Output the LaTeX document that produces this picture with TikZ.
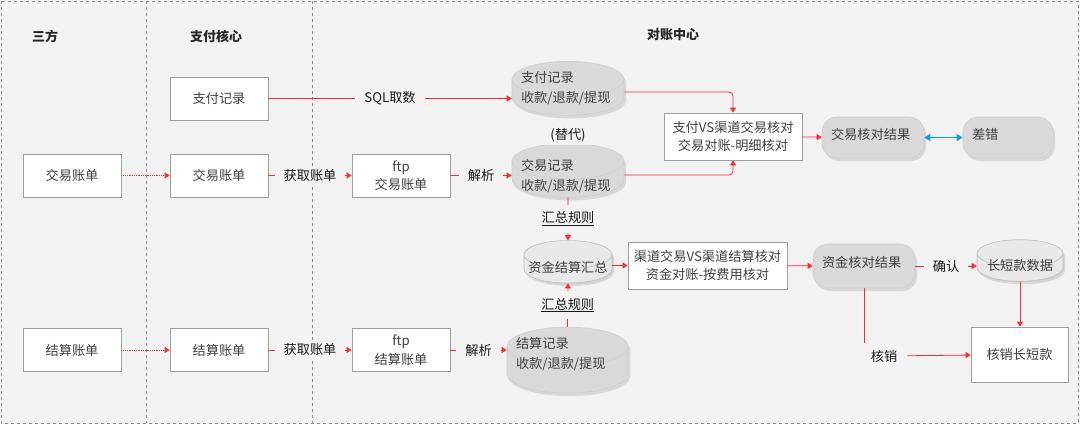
\documentclass[tikz,border=0pt]{standalone}
\usepackage{fontspec}
\setmainfont{Noto Sans CJK SC}
\usetikzlibrary{arrows.meta,shapes.geometric,shadows}
\definecolor{bg}{HTML}{F2F2F2}
\definecolor{laneline}{HTML}{8C8C8C}
\definecolor{boxline}{HTML}{9E9E9E}
\definecolor{cylfill}{HTML}{D9D9D9}
\definecolor{cylline}{HTML}{CDCDCD}
\definecolor{txtgray}{HTML}{404040}
\definecolor{linered}{HTML}{FF2A2A}
\definecolor{arrblue}{HTML}{1E9BD7}
\tikzset{
  lane/.style={draw=laneline, dashed, line width=0.8pt},
  head/.style={font=\fontsize{13}{16}\selectfont\bfseries, text=black!85},
  box/.style={draw=boxline, fill=white, line width=0.8pt, minimum width=98pt,
    minimum height=43pt, align=center, text=txtgray,
    font=\fontsize{13.2}{18.5}\selectfont},
  cyl/.style={cylinder, shape border rotate=90, aspect=0.32, draw=cylline,
    fill=cylfill, line width=0.6pt, inner sep=0pt, text height=0pt, text depth=0pt,
    drop shadow={shadow xshift=2pt, shadow yshift=-3pt, opacity=0.25, fill=black!45}},
  cylw/.style={text width=#1, minimum width=#1},
  cyllight/.style={cyl, fill=black!9, draw=black!25,
    drop shadow={shadow xshift=1pt, shadow yshift=-1pt, opacity=0.1, fill=black!45}},
  cyltext/.style={inner sep=0pt, align=left, text=txtgray,
    font=\fontsize{13.2}{19.5}\selectfont},
  pill/.style={rounded corners=15pt, fill=cylfill, draw=cylline, line width=0.6pt,
    text=txtgray, align=left, font=\fontsize{13.2}{16}\selectfont,
    text height=10pt, text depth=7pt,
    drop shadow={shadow xshift=2pt, shadow yshift=-3pt, opacity=0.25, fill=black!45}},
  lbl/.style={fill=bg, inner xsep=9pt, inner ysep=3pt, text=black!90,
    font=\fontsize{13.2}{16}\selectfont},
  arr/.style={draw=linered, line width=0.8pt, -{Triangle[width=6pt,length=5pt]}},
  dotarr/.style={arr, densely dotted},
  barr/.style={draw=arrblue, line width=1.4pt,
    {Triangle[width=7pt,length=6pt]}-{Triangle[width=7pt,length=6pt]}},
  redline/.style={draw=linered, line width=0.8pt}
}
\begin{document}
\begin{tikzpicture}[x=1pt,y=-1pt]
% background and swim lanes
\fill[bg] (0,0) rectangle (1080,424);
\draw[lane] (1,1) rectangle (1078,423);
\foreach \x in {146,312}
  \draw[lane] (\x,1) -- (\x,423);

\node[head] (hsf) at (45,36) {三方};
\node[head] (hzf) at (216,36) {支付核心};
\node[head] (hdz) at (673,35) {对账中心};

% records
\node[cyl, cylw=112pt, minimum height=47pt,
  label={[cyltext, text width=94pt, yshift=9.5pt, name=zfct]center:支付记录\\收款/退款/提现}] (zfc) at (568,97.5) {};
\node[cyl, cylw=112pt, minimum height=41pt,
  label={[cyltext, text width=94pt, yshift=3.5pt, name=jyct]center:交易记录\\收款/退款/提现}] (jyc) at (568,179.5) {};
\node[cyl, cylw=121pt, minimum height=66pt,
  label={[cyltext, text width=103pt, yshift=16pt, name=jsct]center:结算记录\\收款/退款/提现}] (jsc) at (567.5,370) {};
\node[cyllight, cylw=88pt, minimum height=40pt,
  label={[cyltext, yshift=2pt, name=hzct]center:资金结算汇总}] (hzc) at (568,269) {};
\node[lbl] (tidai) at (568,135) {(替代)};

% bills from third party to core to ftp
\node[box] (zfjl) at (219,98.5) {支付记录};
\foreach \y/\nm/\tx in {175.5/jy/交易账单, 350/js/结算账单}{
  \node[box] (\nm1) at (72,\y) {\tx};
  \node[box] (\nm2) at (219,\y) {\tx};
  \node[box] (\nm3) at (401,\y) {ftp\\\tx};
  \draw[dotarr] (\nm1) -- (\nm2);
  \draw[arr] (\nm2) -- node[lbl]{获取账单} (\nm3);
  \draw[arr] (\nm3.east) -- node[lbl]{解析} (\nm3.east -| \nm c.west);
}
\draw[arr] (zfjl.east) -- node[lbl]{SQL取数} (zfjl.east -| zfc.west);

% checks
\node[box, minimum width=138pt, minimum height=47pt] (jyhd) at (733,136.5) {支付VS渠道交易核对\\交易对账-明细核对};
\node[pill, minimum width=102pt, minimum height=41pt, text width=84pt] (jyjg) at (873,137.5) {交易核对结果};
\node[pill, minimum width=90pt, minimum height=41pt, text width=72pt] (cc) at (1008,137.5) {差错};
\node[box, minimum width=159pt, minimum height=47pt] (zjhd) at (707.5,265.5) {渠道交易VS渠道结算核对\\资金对账-按费用核对};
\node[pill, minimum width=102pt, minimum height=44pt, text width=84pt] (zjjg) at (864,266) {资金核对结果};
\node[cyllight, cylw=86pt, minimum height=39pt,
  label={[cyltext, yshift=2.5pt, name=cdkt]center:长短款数据}] (cdk) at (1020,267.5) {};
\node[box, minimum width=97pt, minimum height=55pt] (hxcdk) at (1019.5,354.5) {核销长短款};
\node[lbl, inner xsep=10pt, inner ysep=7pt] (hxl) at (884,356) {核销};

\draw[arr, rounded corners=4pt] ([yshift=5.5pt]zfc.east) -| (jyhd.north);
\draw[arr, rounded corners=4pt] ([yshift=4.5pt]jyc.east) -| (jyhd.south);
\draw[arr] (jyhd) -- (jyjg);
\draw[barr] (jyjg) -- (cc);
\draw[arr] (jyc.south) -- node[lbl, inner ysep=7pt]{\underline{汇总规则}} (hzc.north);
\draw[arr] (jsc.north) -- node[lbl, inner ysep=7pt]{\underline{汇总规则}} (hzc.south);
\draw[arr] (hzc.east |- zjhd.west) -- (zjhd.west);
\draw[arr] (zjhd) -- (zjjg);
\draw[arr] (zjjg.east) -- node[lbl]{确认} (zjjg.east -| cdk.west);
\draw[arr] (cdk.south) -- (cdk.south |- hxcdk.north);
\draw[redline] (zjjg.south) -- (zjjg.south |- hxl.north);
\draw[arr] (hxl) -- (hxcdk);
\end{tikzpicture}
\end{document}
